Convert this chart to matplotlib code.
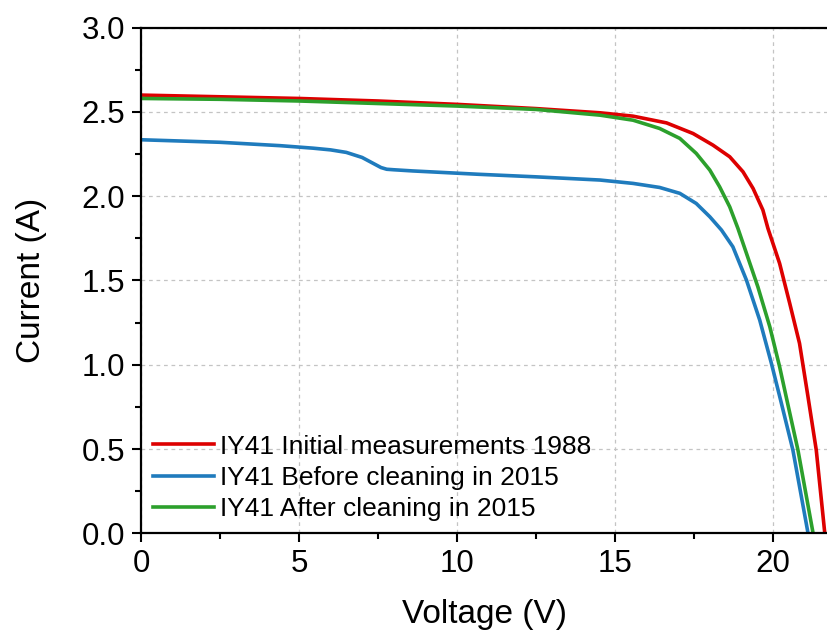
import matplotlib
matplotlib.use("Agg")
import matplotlib.pyplot as plt
from matplotlib.ticker import MultipleLocator, FormatStrFormatter

# I-V curves of module IY41
v_1988 = [0, 2.5, 5, 7.5, 10, 12.5, 14.53, 15.58, 16.64, 17.48, 18.11, 18.64, 19.06,
          19.38, 19.69, 19.85, 20.22, 20.54, 20.85, 21.11, 21.38, 21.65]
i_1988 = [2.60, 2.59, 2.58, 2.565, 2.545, 2.52, 2.495, 2.475, 2.435, 2.372, 2.303,
          2.234, 2.145, 2.046, 1.918, 1.809, 1.601, 1.364, 1.127, 0.82, 0.494, 0.0]

v_before = [0, 2.5, 4.4, 5.45, 6.0, 6.5, 7.0, 7.2, 7.45, 7.6, 7.78, 8.0, 8.6, 10.7,
            12.5, 14.53, 15.58, 16.42, 17.06, 17.58, 18.01, 18.38, 18.74, 19.17,
            19.59, 19.96, 20.25, 20.64, 21.12]
i_before = [2.335, 2.32, 2.30, 2.285, 2.275, 2.26, 2.23, 2.21, 2.185, 2.17, 2.16,
            2.157, 2.15, 2.13, 2.115, 2.096, 2.076, 2.052, 2.017, 1.957, 1.878, 1.799,
            1.700, 1.502, 1.265, 1.008, 0.791, 0.494, 0.0]

v_after = [0, 2.5, 5, 7.5, 10, 12.5, 14.53, 15.58, 16.42, 17.06, 17.58, 18.01, 18.32,
           18.64, 18.90, 19.17, 19.53, 19.91, 20.22, 20.45, 20.80, 21.28]
i_after = [2.58, 2.575, 2.565, 2.55, 2.535, 2.515, 2.481, 2.451, 2.402, 2.343, 2.254,
           2.155, 2.056, 1.937, 1.809, 1.661, 1.463, 1.225, 0.988, 0.791, 0.494, 0.0]

labels = ["IY41 Initial measurements 1988",
          "IY41 Before cleaning in 2015",
          "IY41 After cleaning in 2015"]

plt.rcParams['font.family'] = ['Liberation Sans', 'DejaVu Sans']

fig = plt.figure(figsize=(8.27, 6.39), dpi=100)
ax = fig.add_axes([0.1705, 0.1654, 0.8295, 0.7913])

ax.plot(v_1988, i_1988, color='#dd0000', lw=2.6, label=labels[0])
ax.plot(v_before, i_before, color='#1f7bbd', lw=2.6, label=labels[1])
ax.plot(v_after, i_after, color='#2ca02c', lw=2.6, label=labels[2])

ax.set_xlim(0, 21.72)
ax.set_ylim(0, 3.0)
ax.xaxis.set_major_locator(MultipleLocator(5))
ax.xaxis.set_minor_locator(MultipleLocator(2.5))
ax.yaxis.set_major_locator(MultipleLocator(0.5))
ax.yaxis.set_minor_locator(MultipleLocator(0.25))
ax.yaxis.set_major_formatter(FormatStrFormatter('%.1f'))

ax.grid(True, which='major', ls=(0, (3, 3)), color='#c4c4c4', lw=0.9)
ax.set_axisbelow(True)

for s in ['left', 'bottom', 'top']:
    ax.spines[s].set_linewidth(1.6)
ax.spines['right'].set_visible(False)

ax.tick_params(which='major', direction='out', length=6.5, width=1.5, labelsize=22.5, pad=5)
ax.tick_params(which='minor', direction='out', length=4, width=1.5)
ax.tick_params(top=False, right=False, which='both')

ax.set_xlabel('Voltage (V)', fontsize=24, labelpad=14)
ax.set_ylabel('Current (A)', fontsize=24, labelpad=25)

ax.legend(loc='lower left', frameon=False, fontsize=19,
          handlelength=2.3, handletextpad=0.23, labelspacing=0.28,
          borderpad=0.25, borderaxespad=0.2)

fig.savefig('out.png', dpi=100)
